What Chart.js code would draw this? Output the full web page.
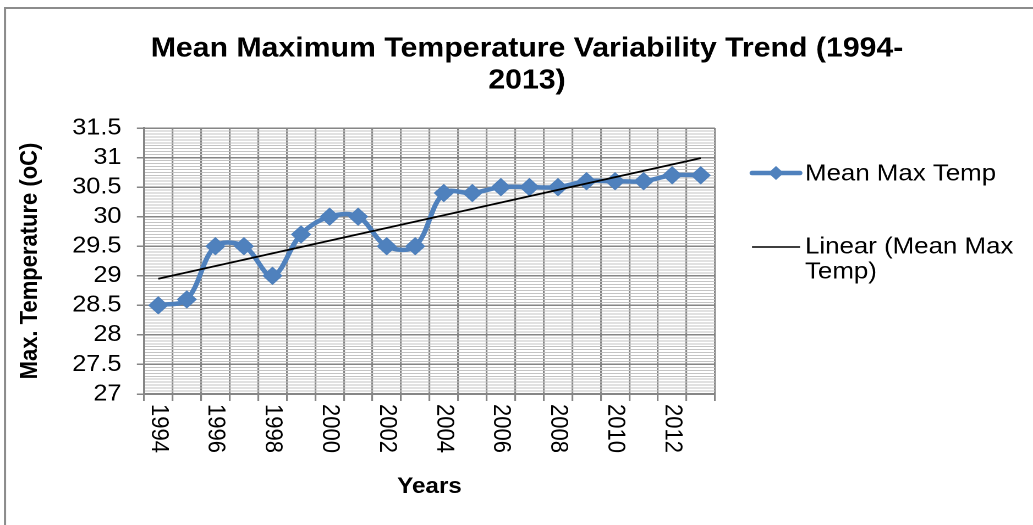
<!DOCTYPE html>
<html>
<head>
<meta charset="utf-8">
<script src="https://cdn.jsdelivr.net/npm/chart.js@4.4.1/dist/chart.umd.min.js"></script>
<style>
html,body{margin:0;padding:0;background:#fff;overflow:hidden;}
#wrap{width:939px;height:525px;transform:scaleX(1.10011);transform-origin:0 0;}
</style>
</head>
<body>
<div id="wrap"><canvas id="c" width="939" height="525"></canvas></div>
<script>
// ---- data ----
const years = ['1994','1995','1996','1997','1998','1999','2000','2001','2002','2003',
               '2004','2005','2006','2007','2008','2009','2010','2011','2012','2013'];
const meanMaxTemp = [28.5, 28.6, 29.5, 29.5, 29.0, 29.7, 30.0, 30.0, 29.5, 29.5,
                     30.4, 30.4, 30.5, 30.5, 30.5, 30.6, 30.6, 30.6, 30.7, 30.7];
const trendYears = ['1994', '2013'];
const trendValues = [28.95, 30.99];
const titleLines = ['Mean Maximum Temperature Variability Trend (1994-', '2013)'];
const yTitle = 'Max. Temperature (oC)';
const xTitle = 'Years';
const seriesName = 'Mean Max Temp';
const trendNameLines = ['Linear (Mean Max', 'Temp)'];

const FONT = '"Liberation Sans", Arial, Helvetica, sans-serif';
const BLUE = '#4F81BD';
const GRID = '#868686';
const MINOR = '#c4c4c4';
const W0 = 939;
const S = 1033 / W0;

function isMajor(v){ return Math.abs(v*2 - Math.round(v*2)) < 1e-6; }

const decor = {
  id: 'decor',
  beforeDraw(chart){
    const ctx = chart.ctx;
    ctx.save();
    ctx.fillStyle = '#fff';
    ctx.fillRect(0,0,chart.width,chart.height);
    ctx.strokeStyle = '#8c8c8c';
    ctx.lineWidth = 2;
    ctx.beginPath();
    ctx.moveTo(5/S, 525); ctx.lineTo(5/S, 8); ctx.lineTo(W0, 8);
    ctx.stroke();
    ctx.restore();
  },
  afterDraw(chart){
    const ctx = chart.ctx;
    const xs = chart.scales.x;
    ctx.save();
    ctx.fillStyle = '#000';
    // title
    ctx.font = 'bold 27.5px ' + FONT;
    ctx.textAlign = 'center';
    ctx.textBaseline = 'middle';
    ctx.fillText(titleLines[0], 527/S, 49);
    ctx.fillText(titleLines[1], 527/S, 81);
    // x tick labels (rotated clockwise)
    ctx.font = '22px ' + FONT;
    ctx.textAlign = 'left';
    years.forEach((y, i) => {
      if (i % 2 !== 0) return;
      const px = xs.getPixelForValue(i);
      ctx.save();
      ctx.translate(px, 404);
      ctx.rotate(Math.PI/2);
      ctx.fillText(y, 0, 0);
      ctx.restore();
    });
    // axis titles
    ctx.font = 'bold 22px ' + FONT;
    ctx.textAlign = 'center';
    ctx.fillText(xTitle, (chart.chartArea.left + chart.chartArea.right)/2, 487);
    ctx.save();
    ctx.translate(30/S, (chart.chartArea.top + chart.chartArea.bottom)/2);
    ctx.rotate(-Math.PI/2);
    ctx.fillText(yTitle, 0, 0);
    ctx.restore();
    // legend
    const lx0 = 752/S, lx1 = 800/S, tx = 805/S;
    ctx.strokeStyle = BLUE; ctx.lineWidth = 4.5; ctx.lineCap = 'round';
    ctx.beginPath(); ctx.moveTo(lx0, 173); ctx.lineTo(lx1, 173); ctx.stroke();
    ctx.fillStyle = BLUE;
    const cx = (lx0+lx1)/2, r = 7;
    ctx.beginPath(); ctx.moveTo(cx, 173-r); ctx.lineTo(cx+r, 173); ctx.lineTo(cx, 173+r); ctx.lineTo(cx-r, 173); ctx.closePath(); ctx.fill();
    ctx.strokeStyle = '#000'; ctx.lineWidth = 1.5; ctx.lineCap = 'butt';
    ctx.beginPath(); ctx.moveTo(lx0, 247); ctx.lineTo(lx1, 247); ctx.stroke();
    ctx.fillStyle = '#000';
    ctx.font = '23.5px ' + FONT;
    ctx.textAlign = 'left';
    ctx.fillText(seriesName, tx, 174);
    ctx.fillText(trendNameLines[0], tx, 247);
    ctx.fillText(trendNameLines[1], tx, 272);
    ctx.restore();
  }
};

new Chart(document.getElementById('c'), {
  type: 'line',
  data: {
    labels: years,
    datasets: [
      {
        label: seriesName,
        data: meanMaxTemp,
        borderColor: BLUE,
        backgroundColor: BLUE,
        borderWidth: 4.5,
        tension: 0.35,
        pointStyle: 'rectRot',
        pointRadius: 8.5,
        pointBorderWidth: 1,
        pointBackgroundColor: BLUE,
        pointBorderColor: BLUE,
        order: 2
      },
      {
        label: 'Linear (' + seriesName + ')',
        data: trendYears.map((y, i) => ({x: y, y: trendValues[i]})),
        borderColor: '#000',
        borderWidth: 1.8,
        pointRadius: 0,
        tension: 0,
        order: 1
      }
    ]
  },
  options: {
    responsive: false,
    maintainAspectRatio: false,
    devicePixelRatio: 2,
    animation: false,
    layout: { padding: { top: 128, right: W0 - 715/S, left: 0, bottom: 0 } },
    plugins: { legend: { display: false }, title: { display: false }, tooltip: { enabled: false } },
    scales: {
      x: {
        type: 'category',
        offset: true,
        afterFit(s){ s.height = 131; },
        grid: { offset: true, color: GRID, lineWidth: 1.6, drawTicks: true, tickLength: 7, tickColor: GRID, tickWidth: 1.6 },
        border: { color: GRID, width: 2 },
        ticks: { display: false, autoSkip: false }
      },
      y: {
        min: 27, max: 31.5,
        afterFit(s){ s.width = 144/S; },
        grid: {
          color: c => isMajor(c.tick.value) ? GRID : MINOR,
          lineWidth: c => isMajor(c.tick.value) ? 1.5 : 1,
          tickLength: 6.5,
          tickColor: c => isMajor(c.tick.value) ? GRID : 'rgba(0,0,0,0)',
          tickWidth: 1.5
        },
        border: { color: GRID, width: 2 },
        ticks: {
          stepSize: 0.05,
          autoSkip: false,
          padding: 14,
          color: '#000',
          font: { family: FONT, size: 23 },
          callback: v => isMajor(v) ? String(Number(v.toFixed(1))) : ''
        }
      }
    }
  },
  plugins: [decor]
});
</script>
</body>
</html>
